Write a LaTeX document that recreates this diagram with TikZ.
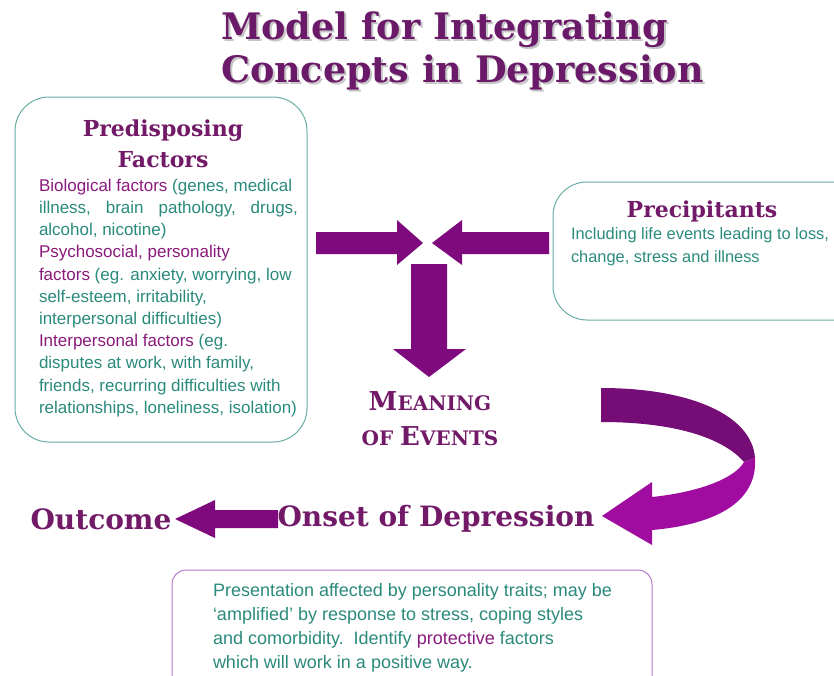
\documentclass[tikz,border=0pt]{standalone}
\usepackage{fontspec}
\setmainfont{Liberation Sans}
\newfontfamily\slabfont{DejaVu Serif}
\definecolor{titlepurple}{HTML}{6A1A68}
\definecolor{headpurple}{HTML}{721A68}
\definecolor{labpurple}{HTML}{8A1A7C}
\definecolor{tealtext}{HTML}{2A8A7C}
\definecolor{tealline}{HTML}{6AAEA6}
\definecolor{lilacline}{HTML}{B77CC8}
\definecolor{arrowpurple}{HTML}{7E0A7E}
\definecolor{arrowdark}{HTML}{760C76}
\definecolor{arrowbright}{HTML}{A00CA0}
\newcommand{\lab}[1]{\textcolor{labpurple}{#1}}
\newcommand{\spreadline}[2]{\hbox to #1{#2}}
\newcommand{\shadowed}[1]{\rlap{\hspace{2pt}\raisebox{-2pt}{\textcolor{gray!45}{#1}}}#1}

\begin{document}
\begin{tikzpicture}[x=1pt,y=-1pt,
      every node/.style={inner sep=0pt,outer sep=0pt},
      titletext/.style={font=\slabfont\bfseries\fontsize{36.5}{43}\selectfont,text=titlepurple,align=left},
      heading/.style={font=\slabfont\bfseries\fontsize{22}{26}\selectfont,text=headpurple},
      bigheading/.style={font=\slabfont\bfseries\fontsize{28}{32}\selectfont,text=headpurple},
      bodytext/.style={font=\fontsize{17}{22.2}\selectfont,text=tealtext,align=left,anchor=north west},
      tealbox/.style={draw=tealline,line width=1pt,rounded corners=34pt},
      blockarrow/.style={fill=arrowpurple}]
    \clip (0,0) rectangle (834,675);
    \fill[white] (0,0) rectangle (834,675);

    % title
    \node[titletext,anchor=west] (title) at (221,52)
      {\shadowed{Model for Integrating}\\ \shadowed{Concepts in Depression}};

    % left box
    \draw[tealbox] (15,97) rectangle (307,442);
    \node[heading] (predisp) at (163,131) {Predisposing};
    \node[heading] (factors) at (163,160) {Factors};
    \node[bodytext] (predisptext) at (39,179) {%
      \lab{Biological factors} (genes, medical\\
      \spreadline{259pt}{illness,\hfill brain\hfill pathology,\hfill drugs,}\\
      alcohol, nicotine)\\
      \lab{Psychosocial, personality}\\
      \lab{factors} (eg. anxiety, worrying, low\\
      self-esteem, irritability,\\
      interpersonal difficulties)\\
      \lab{Interpersonal factors} (eg.\\
      disputes at work, with family,\\
      friends, recurring difficulties with\\
      relationships, loneliness, isolation)};

    % right box
    \draw[tealbox] (553,182) rectangle (880,320);
    \node[heading] (precip) at (702,211) {Precipitants};
    \node[bodytext,font=\fontsize{16.4}{22.2}\selectfont] (preciptext) at (571,228) {%
      Including life events leading to loss,\\
      change, stress and illness};

    % arrows meeting in the middle
    \fill[blockarrow] (316,232) -- (397,232) -- (397,220) -- (423,243)
      -- (397,265) -- (397,254) -- (316,254) -- cycle;
    \fill[blockarrow] (549,232) -- (462,232) -- (462,220) -- (432,243)
      -- (462,265) -- (462,254) -- (549,254) -- cycle;
    \fill[blockarrow] (411,264) -- (447,264) -- (447,349) -- (466,349)
      -- (429,377) -- (393,349) -- (411,349) -- cycle;

    \node[font=\slabfont\bfseries,text=headpurple] (meaning) at (430,401)
      {{\fontsize{26}{30}\selectfont M}{\fontsize{20}{24}\selectfont EANING}};
    \node[font=\slabfont\bfseries,text=headpurple] (events) at (430,436)
      {{\fontsize{20}{24}\selectfont OF }{\fontsize{26}{30}\selectfont E}{\fontsize{20}{24}\selectfont VENTS}};

    % curved arrow
    \fill[arrowdark] (601,388) .. controls (690,388) and (752,415) .. (755,458)
      -- (744,462) .. controls (725,440) and (680,422) .. (601,422) -- cycle;
    \fill[arrowbright] (755,458) .. controls (758,505) and (710,525) .. (652,530)
      -- (652,545) -- (602,516) -- (652,482) -- (652,497)
      .. controls (700,492) and (735,478) .. (744,462) -- cycle;

    % bottom row
    \node[bigheading] (onset) at (436,519) {Onset of Depression};
    \node[bigheading] (outcome) at (101,519) {Outcome};
    \fill[blockarrow] (278,510) -- (215,510) -- (215,500) -- (175,519)
      -- (215,538) -- (215,528) -- (278,528) -- cycle;

    % bottom box
    \draw[draw=lilacline,line width=1pt,rounded corners=14pt] (172,570) rectangle (652,700);
    \node[bodytext,font=\fontsize{18}{24.3}\selectfont] (present) at (213,583) {%
      Presentation affected by personality traits; may be\\
      ‘amplified’ by response to stress, coping styles\\
      and comorbidity.\ \ Identify \lab{protective} factors\\
      which will work in a positive way.};
\end{tikzpicture}
\end{document}
